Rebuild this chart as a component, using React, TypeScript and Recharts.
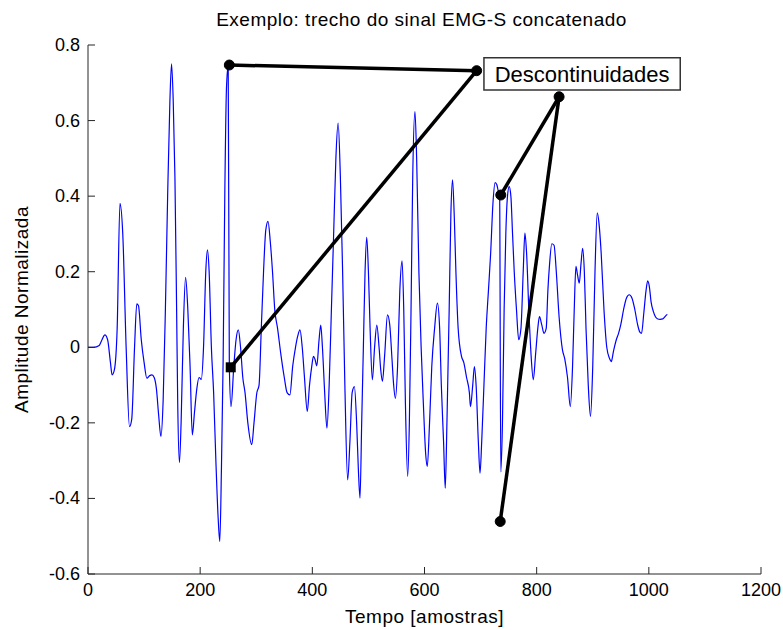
import React from 'react';
import { LineChart, Line, XAxis, YAxis, ReferenceLine, ReferenceDot, ReferenceArea } from 'recharts';

const tempo = [
  0, 10, 20, 25, 30, 35, 40, 43, 47, 52, 57, 62, 68, 74, 78, 83, 87, 90, 95, 100,
  105, 110, 114, 118, 122, 126, 130, 134, 138, 142, 146, 149, 152, 155, 158, 160, 163, 166, 170, 174,
  178, 182, 186, 190, 194, 198, 202, 206, 210, 213, 216, 220, 224, 228, 232, 235, 238, 241, 244, 247,
  250, 252, 255, 260, 264, 268, 272, 276, 280, 285, 292, 296, 301, 305, 309, 313, 317, 321, 325, 329,
  333, 338, 344, 350, 355, 360, 365, 370, 374, 378, 382, 386, 391, 395, 399, 402, 405, 408, 412, 415,
  418, 422, 426, 430, 434, 438, 442, 446, 450, 454, 458, 463, 467, 471, 475, 479, 482, 485, 488, 491,
  494, 497, 500, 503, 507, 511, 515, 519, 522, 525, 529, 534, 538, 542, 545, 548, 552, 556, 560, 563,
  566, 570, 573, 576, 579, 583, 586, 590, 594, 598, 602, 605, 609, 613, 618, 623, 627, 630, 634, 637,
  640, 644, 647, 650, 653, 656, 660, 666, 670, 675, 680, 682, 686, 689, 692, 696, 699, 702, 706, 710,
  714, 718, 722, 726, 729, 732, 734, 736, 739, 742, 745, 748, 751, 754, 757, 760, 764, 768, 772, 776,
  779, 782, 786, 790, 794, 798, 802, 805, 809, 813, 817, 820, 823, 827, 831, 835, 840, 846, 850, 855,
  860, 864, 867, 870, 873, 876, 879, 882, 885, 888, 892, 896, 900, 904, 908, 911, 915, 920, 925, 930,
  933, 937, 942, 946, 950, 955, 960, 965, 970, 975, 980, 984, 987, 991, 995, 998, 1001, 1004, 1008, 1012,
  1016, 1020, 1025, 1030, 1033,
];

const amplitude = [
  0, 0, 0.005, 0.02, 0.033, 0.02, -0.04, -0.073, -0.06, 0.05, 0.381, 0.3, 0.0, -0.21, -0.19, 0.0, 0.115, 0.11, 0.02, -0.04,
  -0.082, -0.075, -0.073, -0.08, -0.11, -0.18, -0.236, -0.14, 0.1, 0.4, 0.65, 0.75, 0.65, 0.45, 0.1, -0.15, -0.305, -0.2, 0.05, 0.185,
  0.1, -0.05, -0.232, -0.17, -0.11, -0.08, -0.085, 0.0, 0.2, 0.258, 0.2, 0.0, -0.12, -0.3, -0.45, -0.514, -0.315, -0.03, 0.416, 0.69,
  0.745, -0.05, -0.157, -0.05, 0.02, 0.046, 0.0, -0.08, -0.12, -0.2, -0.258, -0.2, -0.121, -0.1, 0.05, 0.2, 0.31, 0.333, 0.28, 0.2,
  0.1, 0.05, -0.02, -0.08, -0.12, -0.126, -0.05, 0.0, 0.03, 0.046, 0.0, -0.08, -0.17, -0.1, -0.05, -0.024, -0.033, -0.049, 0.02, 0.059,
  0.0, -0.12, -0.214, -0.1, 0.1, 0.3, 0.5, 0.593, 0.45, 0.2, -0.1, -0.351, -0.25, -0.12, -0.104, -0.2, -0.32, -0.399, -0.2, 0.0,
  0.2, 0.291, 0.2, 0.05, -0.086, 0.0, 0.059, 0.0, -0.06, -0.09, -0.02, 0.086, 0.06, -0.03, -0.1, -0.135, -0.05, 0.15, 0.229, 0.1,
  -0.15, -0.342, -0.2, 0.1, 0.45, 0.624, 0.5, 0.2, 0.0, -0.15, -0.28, -0.315, -0.2, -0.05, 0.05, 0.117, 0.05, -0.1, -0.25, -0.373,
  -0.2, 0.1, 0.35, 0.443, 0.35, 0.2, 0.05, -0.024, -0.04, -0.08, -0.12, -0.157, -0.1, -0.051, -0.1, -0.25, -0.333, -0.25, -0.1, 0.05,
  0.15, 0.25, 0.38, 0.436, 0.43, 0.41, 0.4, -0.33, -0.2, 0.1, 0.3, 0.4, 0.425, 0.4, 0.3, 0.2, 0.1, 0.02, 0.05, 0.2,
  0.302, 0.25, 0.1, -0.02, -0.086, -0.02, 0.05, 0.081, 0.06, 0.037, 0.05, 0.15, 0.22, 0.274, 0.27, 0.2, 0.08, -0.007, -0.03, -0.08,
  -0.157, -0.05, 0.1, 0.214, 0.19, 0.17, 0.22, 0.262, 0.2, 0.05, -0.1, -0.183, -0.05, 0.2, 0.356, 0.33, 0.25, 0.1, 0.0, -0.03,
  -0.038, -0.01, 0.02, 0.037, 0.06, 0.1, 0.13, 0.139, 0.13, 0.1, 0.06, 0.04, 0.037, 0.09, 0.15, 0.176, 0.16, 0.12, 0.095, 0.08,
  0.075, 0.074, 0.075, 0.083, 0.087,
];

const xTicks = [0, 200, 400, 600, 800, 1000, 1200];
const yTicks = [-0.6, -0.4, -0.2, 0, 0.2, 0.4, 0.6, 0.8];

const title = 'Exemplo: trecho do sinal EMG-S concatenado';
const xLabel = 'Tempo [amostras]';
const yLabel = 'Amplitude Normalizada';
const boxText = 'Descontinuidades';

// annotation: arrows from the text box to the discontinuities (data coordinates)
const arrowFrom = [
  { x: 252, y: 0.747 },
  { x: 693, y: 0.732 },
  { x: 840, y: 0.663 },
  { x: 840, y: 0.663 },
];
const arrowTo = [
  { x: 693, y: 0.732 },
  { x: 254.5, y: -0.053 },
  { x: 736, y: 0.403 },
  { x: 735, y: -0.461 },
];
const boxX = [706, 1056];
const boxY = [0.681, 0.766];

const data = tempo.map((t, i) => ({ t, v: amplitude[i] }));

const FONT = '"Liberation Sans", Arial, Helvetica, sans-serif';
const TICK_LEN = 7;
const AXIS_COLOR = '#262626';

const fmt = (v: number) => String(Number(v.toFixed(1)));

const BottomTick = (props: any) => {
  const { x, y, payload } = props;
  return (
    <g>
      <line x1={x} x2={x} y1={y} y2={y - TICK_LEN} stroke={AXIS_COLOR} strokeWidth={1} />
      <text x={x} y={y + 22} textAnchor="middle" fontSize={18} fontFamily={FONT} fill="#000">
        {fmt(payload.value)}
      </text>
    </g>
  );
};
const TopTick = (props: any) => {
  const { x, y } = props;
  return <line x1={x} x2={x} y1={y} y2={y + TICK_LEN} stroke={AXIS_COLOR} strokeWidth={1} />;
};
const LeftTick = (props: any) => {
  const { x, y, payload } = props;
  return (
    <g>
      <line x1={x} x2={x + TICK_LEN} y1={y} y2={y} stroke={AXIS_COLOR} strokeWidth={1} />
      <text x={x - 8} y={y + 6} textAnchor="end" fontSize={18} fontFamily={FONT} fill="#000">
        {fmt(payload.value)}
      </text>
    </g>
  );
};
const RightTick = (props: any) => {
  const { x, y } = props;
  return <line x1={x} x2={x - TICK_LEN} y1={y} y2={y} stroke={AXIS_COLOR} strokeWidth={1} />;
};

const SquareDot = (props: any) => {
  const { cx, cy } = props;
  return <rect x={cx - 5} y={cy - 5} width={10} height={10} fill="#000" />;
};

export default function App() {
  return (
    <div style={{ position: 'absolute', left: 0, top: 0, width: 783, height: 630, background: '#fff' }}>
      <LineChart
        width={783}
        height={630}
        data={data}
        margin={{ top: 45, right: 22, bottom: 0, left: 0 }}
        style={{ fontFamily: FONT }}
      >
        <XAxis
          xAxisId="bottom"
          dataKey="t"
          type="number"
          domain={[0, 1200]}
          ticks={xTicks}
          allowDataOverflow
          height={56}
          tickSize={0}
          tickMargin={0}
          tickLine={false}
          axisLine={{ stroke: AXIS_COLOR, strokeWidth: 1 }}
          tick={<BottomTick />}
          interval={0}
          label={{ value: xLabel, position: 'insideBottom', offset: 7, fontSize: 19, letterSpacing: 0.5, fill: '#000', fontFamily: FONT }}
        />
        <XAxis
          xAxisId="top"
          orientation="top"
          dataKey="t"
          type="number"
          domain={[0, 1200]}
          ticks={xTicks}
          allowDataOverflow
          height={0}
          tickSize={0}
          tickMargin={0}
          tickLine={false}
          axisLine={{ stroke: AXIS_COLOR, strokeWidth: 1 }}
          tick={<TopTick />}
          interval={0}
        />
        <YAxis
          yAxisId="left"
          type="number"
          domain={[-0.6, 0.8]}
          ticks={yTicks}
          allowDataOverflow
          width={88}
          tickSize={0}
          tickMargin={0}
          tickLine={false}
          axisLine={{ stroke: AXIS_COLOR, strokeWidth: 1 }}
          tick={<LeftTick />}
          interval={0}
          label={{ value: yLabel, angle: -90, position: 'insideLeft', offset: 21, fontSize: 19, letterSpacing: 0.5, fill: '#000', fontFamily: FONT, style: { textAnchor: 'middle' } }}
        />
        <YAxis
          yAxisId="right"
          orientation="right"
          type="number"
          domain={[-0.6, 0.8]}
          ticks={yTicks}
          allowDataOverflow
          width={0}
          tickSize={0}
          tickMargin={0}
          tickLine={false}
          axisLine={{ stroke: AXIS_COLOR, strokeWidth: 1 }}
          tick={<RightTick />}
          interval={0}
        />
        <Line
          xAxisId="bottom"
          yAxisId="left"
          dataKey="v"
          type="monotone"
          stroke="#0000ff"
          strokeWidth={1.2}
          dot={false}
          isAnimationActive={false}
        />
        {arrowFrom.map((p, i) => (
          <ReferenceLine
            key={`seg${i}`}
            xAxisId="bottom"
            yAxisId="left"
            segment={[p, arrowTo[i]]}
            stroke="#000"
            strokeWidth={3.5}
          />
        ))}
        <ReferenceArea
          xAxisId="bottom"
          yAxisId="left"
          x1={boxX[0]}
          x2={boxX[1]}
          y1={boxY[0]}
          y2={boxY[1]}
          fill="#fff"
          fillOpacity={1}
          stroke="#333"
          strokeWidth={1.5}
          label={{ value: boxText, position: 'center', fontSize: 22, fill: '#000', fontFamily: FONT }}
        />
        {[arrowFrom[0], arrowFrom[1], arrowFrom[2], arrowTo[2], arrowTo[3]].map((p, i) => (
          <ReferenceDot key={`dot${i}`} xAxisId="bottom" yAxisId="left" x={p.x} y={p.y} r={5} fill="#000" stroke="#000" />
        ))}
        <ReferenceDot xAxisId="bottom" yAxisId="left" x={arrowTo[1].x} y={arrowTo[1].y} shape={<SquareDot />} />
      </LineChart>
      <div
        style={{
          position: 'absolute',
          left: 0,
          width: 783,
          top: 9,
          textAlign: 'center',
          paddingLeft: 60,
          boxSizing: 'border-box',
          fontFamily: FONT,
          fontSize: 19,
          letterSpacing: 0.5,
          color: '#000',
          lineHeight: '22px',
        }}
      >
        {title}
      </div>
    </div>
  );
}
